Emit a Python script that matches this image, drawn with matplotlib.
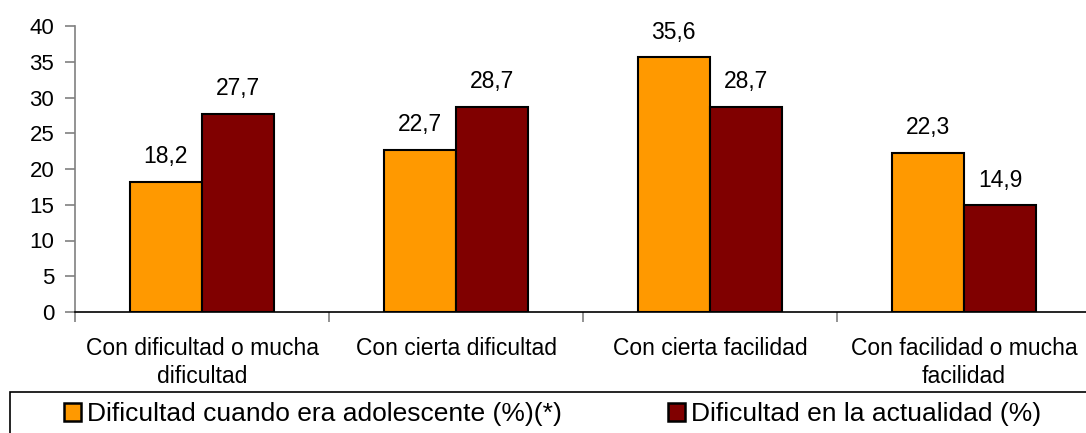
import numpy as np
import matplotlib.pyplot as plt
from matplotlib.patches import Rectangle, Patch

plt.rcParams['font.family'] = ['Liberation Sans', 'DejaVu Sans']

categorias = ["Con dificultad o mucha\ndificultad", "Con cierta dificultad",
              "Con cierta facilidad", "Con facilidad o mucha\nfacilidad"]
adolescente = [18.2, 22.7, 35.6, 22.3]
actualidad = [27.7, 28.7, 28.7, 14.9]
series = ["Dificultad cuando era adolescente (%)(*)", "Dificultad en la actualidad (%)"]
colores = ["#FF9900", "#800000"]

W, H = 1086, 433
fig = plt.figure(figsize=(W / 100, H / 100), dpi=100)
# el eje sigue más allá del borde derecho, como en el original
ax = fig.add_axes([75 / W, (H - 312) / H, 1016 / W, 286 / H])

x = np.arange(len(categorias))
ancho = 0.285
for i, (vals, col) in enumerate(zip([adolescente, actualidad], colores)):
    pos = x + (i - 0.5) * ancho
    barras = ax.bar(pos, vals, ancho, color=col, edgecolor="black", linewidth=1.5, zorder=3)
    for b, v in zip(barras, vals):
        ax.annotate(f"{v:.1f}".replace(".", ","), (b.get_x() + b.get_width() / 2, v),
                    xytext=(0, 10), textcoords="offset points",
                    ha="center", va="bottom", fontsize=16.5)

ax.set_xlim(-0.5, 3.5)
ax.set_ylim(0, 40)
ax.set_yticks(range(0, 41, 5))
ax.set_xticks(np.arange(-0.5, 3.0, 1.0))
ax.set_xticklabels([])
ax.set_xticks(x, minor=True)
ax.set_xticklabels(categorias, minor=True, fontsize=16.5, linespacing=1.3)
ax.tick_params(axis="x", which="minor", length=0, pad=18)
ax.tick_params(axis="x", which="major", length=7, color="#808080", width=1.2)
ax.tick_params(axis="y", length=7, color="#808080", width=1.2, labelsize=16, pad=8)

for s in ["top", "right"]:
    ax.spines[s].set_visible(False)
ax.spines["left"].set_color("#808080")
ax.spines["left"].set_linewidth(1.2)
ax.spines["bottom"].set_linewidth(1.2)

# recuadro de la leyenda, cortado por la derecha y por abajo
fig.patches.append(Rectangle((10 / W, -0.1), 1.2, (H - 392) / H + 0.1,
                             transform=fig.transFigure, fill=False,
                             edgecolor="black", linewidth=1.2))
handles = [Patch(facecolor=c, edgecolor="black", linewidth=1.8) for c in colores]
fig.legend(handles, series, loc="center left", bbox_to_anchor=(64 / W, (H - 414) / H),
           ncol=2, frameon=False, fontsize=19, handlelength=0.65, handleheight=0.65,
           handletextpad=0.23, columnspacing=4.0, borderaxespad=0, borderpad=0)

fig.savefig("out.png", dpi=100)
